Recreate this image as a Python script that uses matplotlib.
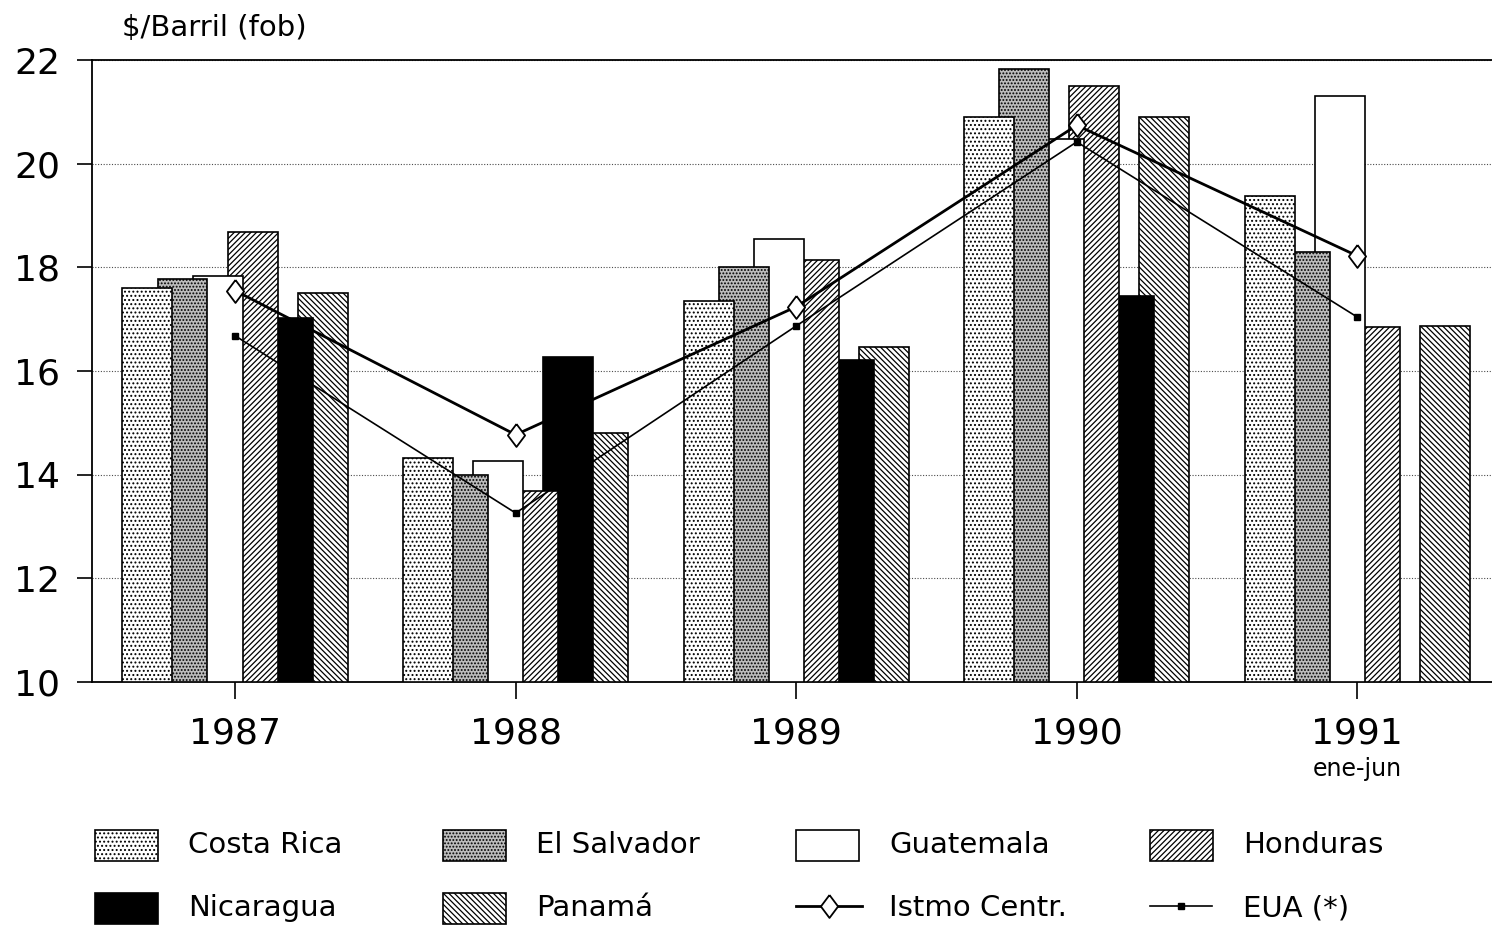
import numpy as np
import matplotlib.pyplot as plt
from matplotlib.patches import Rectangle
from matplotlib.lines import Line2D

# precios de importacion de petroleo, $/barril fob
years = ["1987", "1988", "1989", "1990", "1991"]
countries = ["Costa Rica", "El Salvador", "Guatemala", "Honduras", "Nicaragua", "Panamá"]
costa_rica = [17.6, 14.32, 17.35, 20.9, 19.38]
el_salvador = [17.78, 13.99, 18.0, 21.83, 18.3]
guatemala = [17.83, 14.26, 18.55, 20.48, 21.31]
honduras = [18.68, 13.69, 18.14, 21.5, 16.85]
nicaragua = [17.02, 16.27, 16.21, 17.45, np.nan]
panama = [17.5, 14.8, 16.46, 20.9, 16.87]
istmo = [17.55, 14.77, 17.24, 20.74, 18.22]
eua = [16.68, 13.26, 16.87, 20.42, 17.04]

plt.rcParams['font.family'] = ['DejaVu Sans']
plt.rcParams['hatch.linewidth'] = 0.9

# estilos de las barras: (relleno, trama)
styles = [("white", "...."), ("#bdbdbd", "....."), ("white", None),
          ("white", "//////"), ("black", None), ("white", "\\\\\\\\\\\\")]
series = [costa_rica, el_salvador, guatemala, honduras, nicaragua, panama]

# rombo algo mas ancho que el 'd' de matplotlib
rombo = [(0, 1), (0.75, 0), (0, -1), (-0.75, 0), (0, 1)]

fig = plt.figure(figsize=(14.92, 9.3), dpi=100)
ax = fig.add_axes([92/1492, 1 - 682/930, 1 - 92/1492, (682 - 60)/930])

x = np.arange(len(years))
step = 0.125
width = 0.178
for i, vals in enumerate(series):
    fc, hatch = styles[i]
    v = np.array(vals, dtype=float)
    ax.bar(x + (i - 2.5) * step, v - 10, bottom=10, width=width, color=fc,
           hatch=hatch, edgecolor="black", linewidth=1.2, zorder=10 - i)

ax.plot(x, istmo, color="black", lw=2.0, marker=rombo, markersize=16.5,
        markerfacecolor="white", markeredgecolor="black", markeredgewidth=1.3, zorder=20)
ax.plot(x, eua, color="black", lw=1.2, marker="s", markersize=4.5, zorder=21)

ax.set_xlim(-0.51, 4.48)
ax.set_ylim(10, 22)
ax.set_yticks([10, 12, 14, 16, 18, 20, 22])
ax.set_xticks(x)
ax.set_xticklabels(years, fontsize=26)
ax.tick_params(axis="y", labelsize=26, length=11, width=1.2, pad=12)
ax.tick_params(axis="x", length=12, width=1.2, pad=13)
ax.grid(axis="y", linestyle=(0, (1, 1.5)), color="black", lw=0.8, alpha=0.7)
ax.set_axisbelow(True)
ax.spines["right"].set_visible(False)
for s in ["left", "top", "bottom"]:
    ax.spines[s].set_linewidth(1.3)

ax.text(4, -0.14, "ene-jun", transform=ax.get_xaxis_transform(),
        ha="center", va="center", fontsize=17)
fig.text(122/1492, 1 - 28/930, "$/Barril (fob)", fontsize=21, ha="left", va="center")

# leyenda manual, 2 filas x 4 columnas
col_x = [95, 443, 796, 1150]
row_y = [845, 908]
entries = [(0, 0, 0), (0, 1, 1), (0, 2, 2), (0, 3, 3), (1, 0, 4), (1, 1, 5)]
for r, c, i in entries:
    fc, hatch = styles[i]
    fig.add_artist(Rectangle((col_x[c]/1492, 1 - (row_y[r] + 16)/930), 63/1492, 31/930,
                             transform=fig.transFigure, facecolor=fc, hatch=hatch,
                             edgecolor="black", linewidth=1.2))
    fig.text((col_x[c] + 93)/1492, 1 - row_y[r]/930, countries[i], fontsize=21,
             ha="left", va="center")

lx = [col_x[2]/1492, (col_x[2] + 66)/1492]
ly = [1 - 906/930] * 2
fig.add_artist(Line2D(lx, ly, color="black", lw=2.0, transform=fig.transFigure))
fig.add_artist(Line2D([np.mean(lx)], [ly[0]], marker=rombo, markersize=16.5, color="black",
                      markerfacecolor="white", markeredgewidth=1.3, transform=fig.transFigure))
fig.text((col_x[2] + 93)/1492, 1 - 908/930, "Istmo Centr.", fontsize=21, ha="left", va="center")
lx = [col_x[3]/1492, (col_x[3] + 62)/1492]
fig.add_artist(Line2D(lx, ly, color="black", lw=1.2, transform=fig.transFigure))
fig.add_artist(Line2D([np.mean(lx)], [ly[0]], marker="s", markersize=4.5, color="black",
                      transform=fig.transFigure))
fig.text((col_x[3] + 93)/1492, 1 - 908/930, "EUA (*)", fontsize=21, ha="left", va="center")

fig.savefig("out.png", dpi=100)
